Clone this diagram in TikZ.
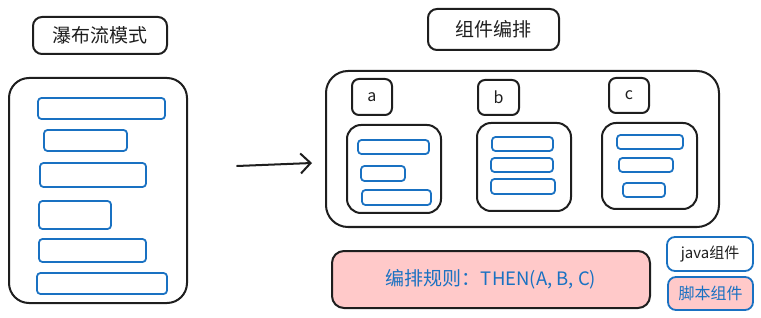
\documentclass[tikz,border=0pt]{standalone}
\usepackage{fontspec}
\setmainfont{Noto Sans CJK SC}
\usetikzlibrary{fit,arrows.meta}
\definecolor{ink}{HTML}{1E1E1E}
\definecolor{exblue}{HTML}{1971C2}
\definecolor{expink}{HTML}{FFC9C9}
\tikzset{
  box/.style={draw=ink, line width=2pt, inner sep=0pt, rounded corners=#1},
  box/.default=8pt,
  bar/.style={draw=exblue, line width=1.8pt, inner sep=0pt, rounded corners=3.5pt},
  lbl/.style={font=\fontsize{19}{22}\selectfont, text=ink},
  abc/.style={font=\fontsize{16}{20}\selectfont, text=ink},
}
\begin{document}
\begin{tikzpicture}[x=1pt,y=-1pt]
\useasboundingbox (0,0) rectangle (761,318);
% left: waterfall
\node[box=9pt, fit={(33,17) (167,54)}] (t1) {};
\node[lbl] (t1txt) at (t1.center) {瀑布流模式};
\node[box=20pt, fit={(9,78) (187,303)}] (wf) {};
\node[bar, fit={(38,98) (165,119)}] (l1) {};
\node[bar, fit={(44,130) (127,151)}] (l2) {};
\node[bar, fit={(40,163) (146,187)}] (l3) {};
\node[bar, fit={(39,201) (111,229)}] (l4) {};
\node[bar, fit={(39,239) (146,262)}] (l5) {};
\node[bar, fit={(37,273) (167,294)}] (l6) {};
% arrow
\coordinate (as) at (237,166);
\coordinate (ae) at (312,163);
\draw[draw=ink, line width=2pt, line cap=round, -{Straight Barb[length=10pt,width=20pt,line width=2pt]}] (as) -- (ae);
% right: composition
\node[box=9pt, fit={(428,9) (559,50)}] (t2) {};
\node[lbl] (t2txt) at (t2.center) {组件编排};
\node[box=22pt, fit={(326,71) (719,227)}] (comp) {};
\node[box=7pt, fit={(352,79) (392,115)}] (ba) {};
\node[box=7pt, fit={(478,80) (519,115)}] (bb) {};
\node[box=7pt, fit={(609,78) (649,113)}] (bc) {};
\node[abc] (ta) at (ba.center) {a};
\node[abc] (tb) at (bb.center) {b};
\node[abc] (tc) at (bc.center) {c};
\node[box=14pt, fit={(347,125) (441,213)}] (ia) {};
\node[box=14pt, fit={(477,123) (571,211)}] (ib) {};
\node[box=14pt, fit={(602,123) (697,209)}] (ic) {};
\node[bar, fit={(358,140) (429,154)}] (a1) {};
\node[bar, fit={(361,166) (405,181)}] (a2) {};
\node[bar, fit={(362,190) (431,205)}] (a3) {};
\node[bar, fit={(492,137) (553,151)}] (b1) {};
\node[bar, fit={(491,158) (553,172)}] (b2) {};
\node[bar, fit={(491,179) (555,194)}] (b3) {};
\node[bar, fit={(617,135) (683,149)}] (c1) {};
\node[bar, fit={(619,158) (673,172)}] (c2) {};
\node[bar, fit={(623,183) (665,197)}] (c3) {};
% rule box
\node[box=12pt, fill=expink, fit={(332,251) (650,308)}] (rule) {};
\node[font=\fontsize{19}{22}\selectfont, text=exblue] (ruletxt) at (rule.center) {编排规则：\fontsize{18.5}{20}\selectfont THEN(A, B, C)};
% legend
\node[draw=exblue, line width=1.8pt, rounded corners=8pt, fill=white, inner sep=0pt, fit={(667,237) (753,271)}] (lj) {};
\node[font=\fontsize{15}{18}\selectfont, text=ink] (ljt) at (lj.center) {java组件};
\node[draw=exblue, line width=1.8pt, rounded corners=8pt, fill=expink, inner sep=0pt, fit={(668,277) (753,310)}] (ls) {};
\node[font=\fontsize{16}{18}\selectfont, text=exblue] (lst) at (ls.center) {脚本组件};
\end{tikzpicture}
\end{document}
